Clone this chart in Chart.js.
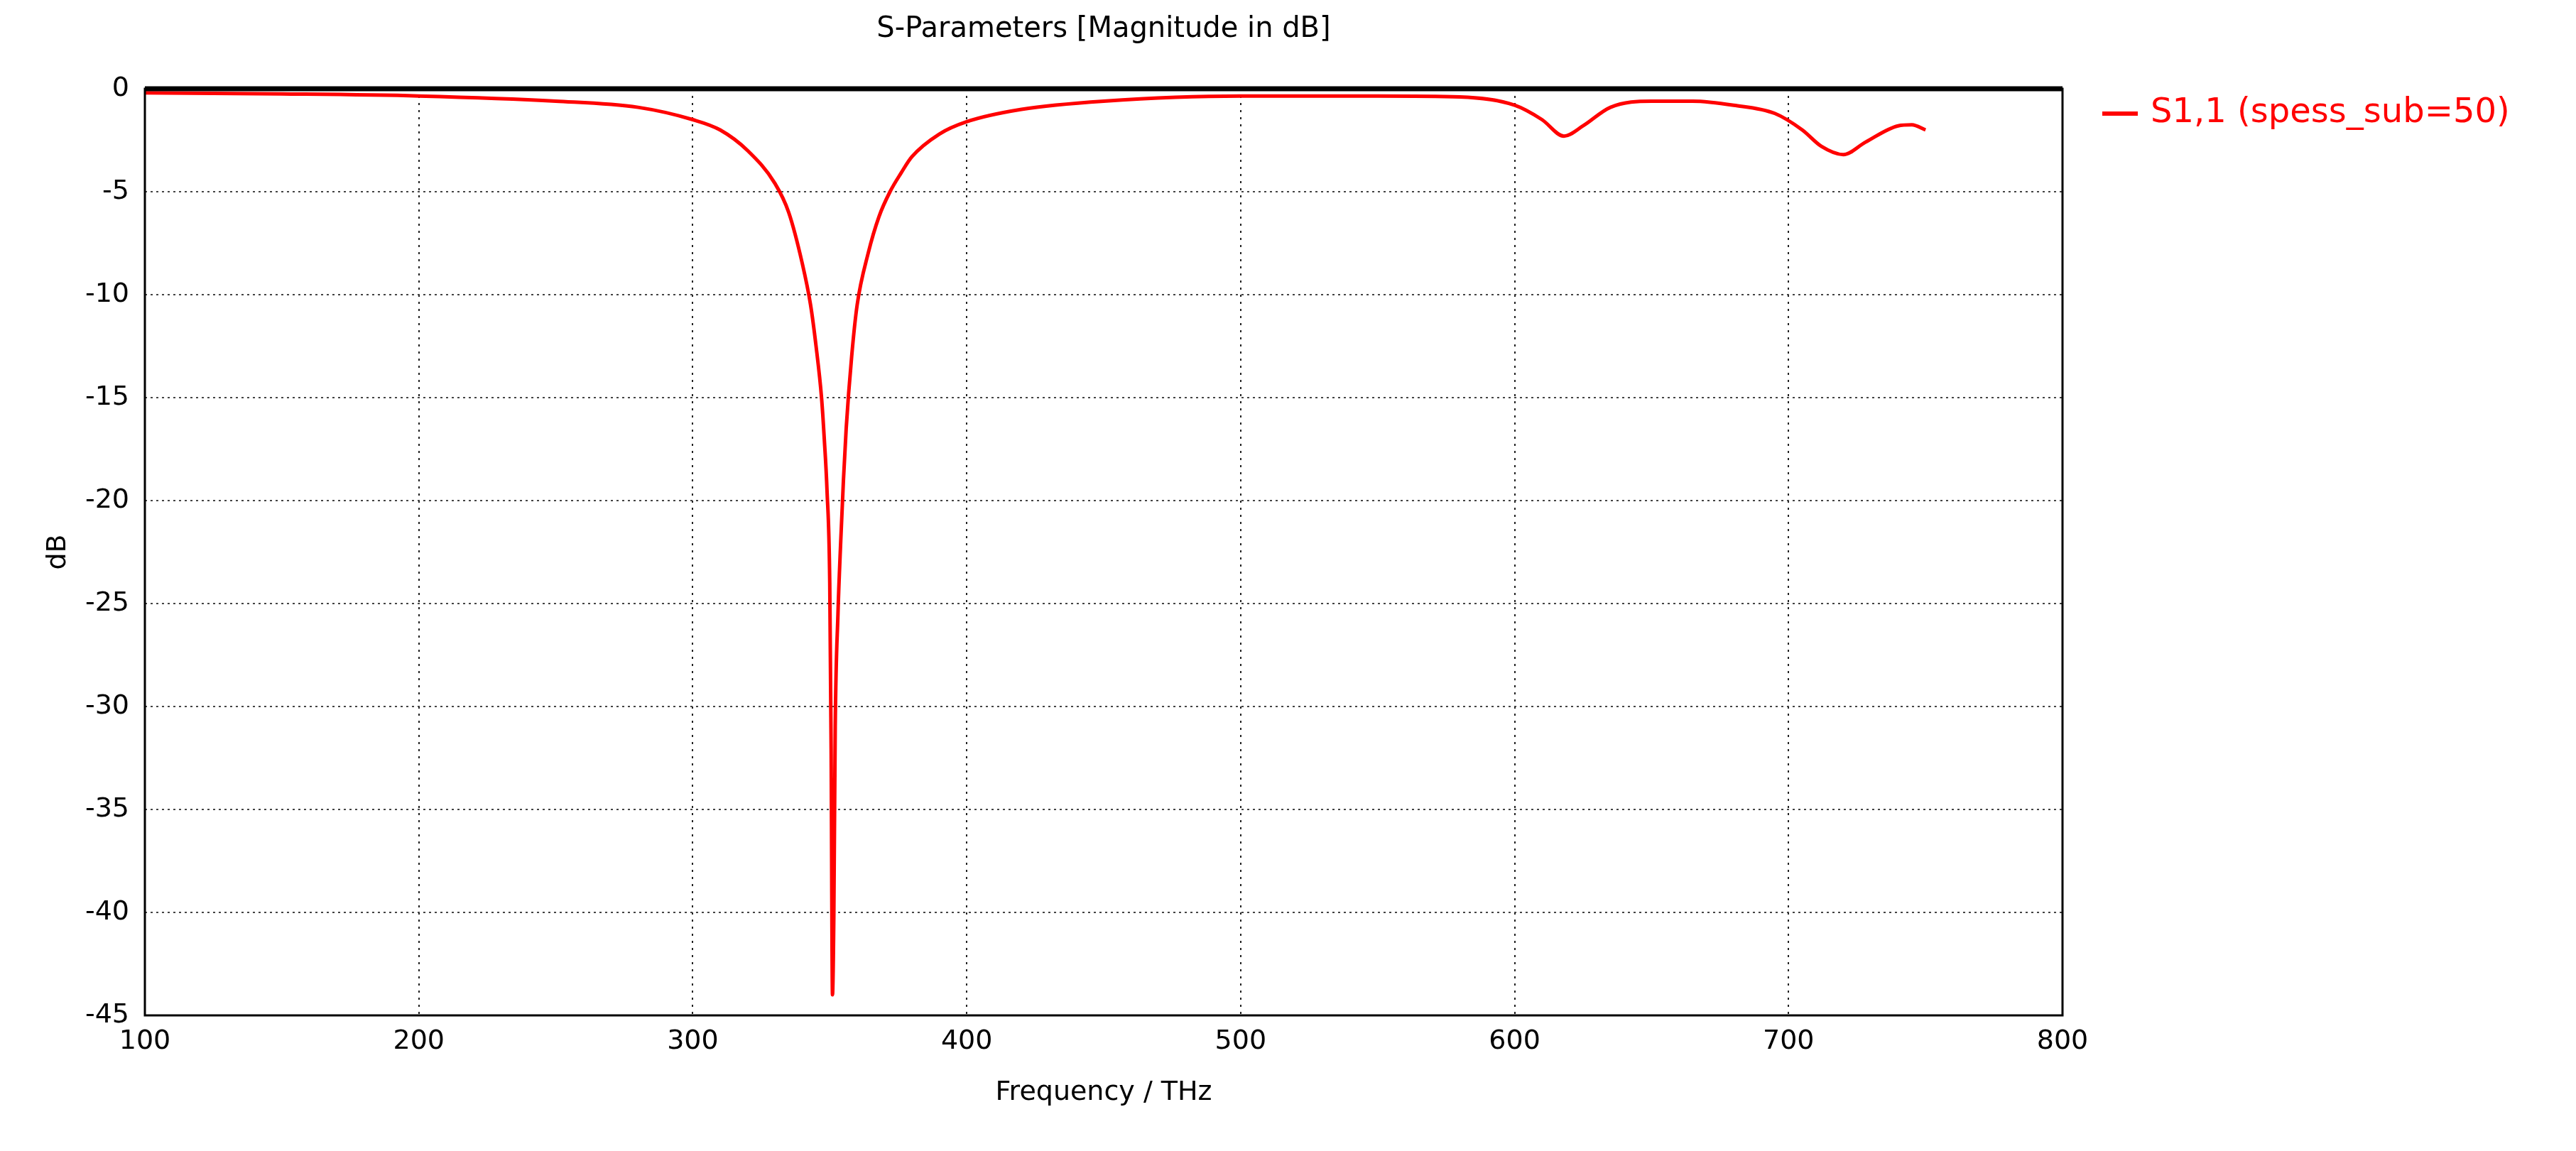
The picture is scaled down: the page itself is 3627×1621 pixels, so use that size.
<!DOCTYPE html>
<html><head><meta charset="utf-8">
<script src="https://cdn.jsdelivr.net/npm/chart.js@4/dist/chart.umd.min.js"></script>
<style>html,body{margin:0;padding:0;background:#fff}#w{width:3627px;height:1621px}</style>
</head><body><div id="w"><canvas id="c"></canvas></div>
<script>
const freqs = [100,150,200,250,280,300,310,320,330,335,340,343,345,347,348,349,350,350.5,351,351.5,352,353,354,355,356,358,360,364,368,372,376,380,390,400,420,450,500,550,580,600,610,618,625,635,650,665,680,695,705,712,720,728,740,745,750];
const s11 = [-0.2,-0.25,-0.35,-0.6,-0.9,-1.5,-2.0,-3.0,-4.6,-6.0,-8.5,-10.5,-12.5,-15,-17,-19.5,-24,-32,-44,-40,-31,-25.5,-22,-19,-16.5,-13,-10.5,-8,-6.2,-5,-4.1,-3.3,-2.2,-1.6,-1.0,-0.6,-0.35,-0.35,-0.4,-0.8,-1.5,-2.3,-1.8,-0.9,-0.6,-0.6,-0.8,-1.2,-2.0,-2.8,-3.2,-2.6,-1.8,-1.75,-2.0];
const seriesName = "S1,1 (spess_sub=50)";
const titleText = "S-Parameters [Magnitude in dB]";
const xTicks = [100,200,300,400,500,600,700,800];
const yTicks = [0,-5,-10,-15,-20,-25,-30,-35,-40,-45];
const F = "'DejaVu Sans', Verdana, sans-serif";
const extras = {
  id:'extras',
  afterDraw(ch){
    const c=ch.ctx, a=ch.chartArea;
    c.save();
    c.fillStyle='#000'; c.font='40px '+F; c.textAlign='center'; c.textBaseline='middle';
    c.fillText(titleText,(a.left+a.right)/2,42);
    c.strokeStyle='#000'; c.lineWidth=3; c.strokeRect(a.left,a.top,a.right-a.left,a.bottom-a.top);
    c.lineWidth=7; c.beginPath(); c.moveTo(a.left,a.top); c.lineTo(a.right,a.top); c.stroke();
    c.strokeStyle='red'; c.lineWidth=6; c.beginPath(); c.moveTo(2960,160); c.lineTo(3010,160); c.stroke();
    c.fillStyle='red'; c.textAlign='left'; c.font='48px '+F; c.fillText(seriesName,3028,160);
    c.restore();
  }
};
new Chart(document.getElementById('c'),{
  type:'line',
  data:{datasets:[{label:seriesName,data:freqs.map((f,i)=>({x:f,y:s11[i]})),borderColor:'red',borderWidth:5,pointRadius:0,cubicInterpolationMode:'monotone',fill:false}]},
  options:{responsive:true,maintainAspectRatio:false,animation:false,
    layout:{padding:{left:55,right:723,top:125,bottom:55}},
    plugins:{legend:{display:false},title:{display:false},tooltip:{enabled:false}},
    scales:{
      x:{type:'linear',min:100,max:800,afterBuildTicks(s){s.ticks=xTicks.map(v=>({value:v}));},
        afterFit(s){s.height=136;},
        grid:{color:'#222',lineWidth:2,drawTicks:false},border:{display:false,dash:[3,7]},
        ticks:{color:'#000',font:{family:F,size:38},padding:14},
        title:{display:true,text:'Frequency / THz',color:'#000',font:{family:F,size:38},padding:{top:6}}},
      y:{min:-45,max:0,afterBuildTicks(s){s.ticks=yTicks.map(v=>({value:v}));},
        afterFit(s){s.width=149;},
        grid:{color:'#444',lineWidth:2,drawTicks:false},border:{display:false,dash:[3,5]},
        ticks:{color:'#000',font:{family:F,size:38},padding:22},
        title:{display:true,text:'dB',color:'#000',font:{family:F,size:38}}}
    }
  },
  plugins:[extras]
});
</script></body></html>
